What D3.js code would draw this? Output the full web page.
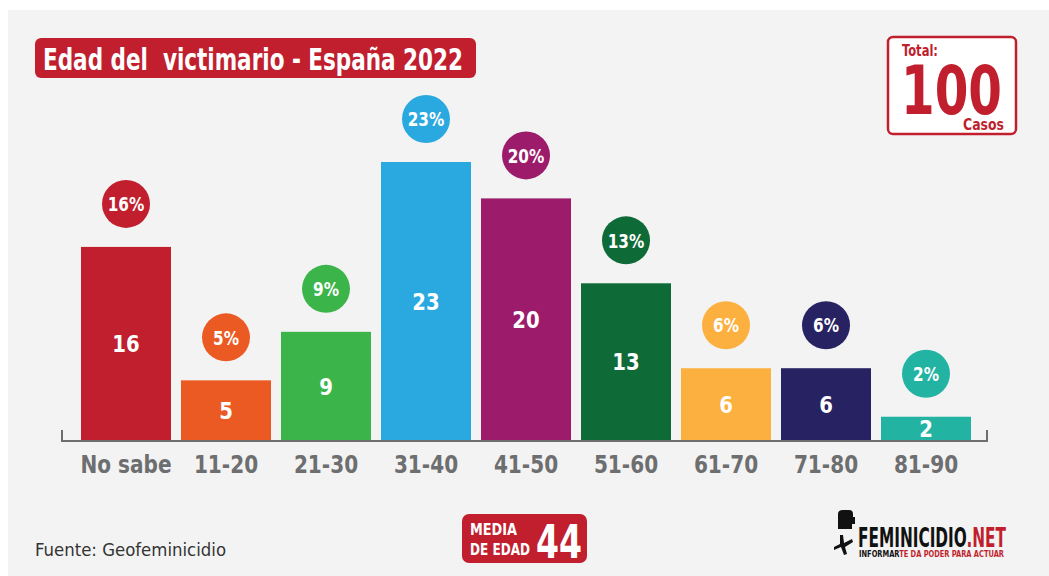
<!DOCTYPE html>
<html>
<head>
<meta charset="utf-8">
<script src="https://cdn.jsdelivr.net/npm/d3@7"></script>
<style>
  body { margin: 0; background: #ffffff; }
  svg text { font-family: "DejaVu Sans Condensed", "Liberation Sans Narrow", "Roboto", sans-serif; font-weight: bold; white-space: pre; }
</style>
</head>
<body>
<div id="chart"></div>
<script>
var width = 1049;
var height = 576;

// datos
var categories = ["No sabe", "11-20", "21-30", "31-40", "41-50", "51-60", "61-70", "71-80", "81-90"];
var counts = [16, 5, 9, 23, 20, 13, 6, 6, 2];
var percents = ["16%", "5%", "9%", "23%", "20%", "13%", "6%", "6%", "2%"];
var colors = ["#c11f2e", "#ec5a24", "#3bb54a", "#2aa9e0", "#9c1c6b", "#0e6b37", "#fbb040", "#272262", "#22b3a3"];
var total = 100;
var mediaEdad = 44;

var data = categories.map((c, i) => ({cat: c, n: counts[i], pct: percents[i], color: colors[i]}));

var svg = d3.select("#chart")
    .append("svg")
    .attr("width", width)
    .attr("height", height);

// estrecha el texto para parecerse a la fuente condensada
function condense(sel, f) {
    sel.each(function() {
        var len = this.getComputedTextLength();
        d3.select(this)
            .attr("textLength", len * f)
            .attr("lengthAdjust", "spacingAndGlyphs");
    });
}

// fondo
svg.append("rect")
    .attr("x", 8).attr("y", 10)
    .attr("width", width - 8).attr("height", height - 10)
    .attr("fill", "#f3f3f3");

var x = d3.scaleBand()
    .domain(categories)
    .range([76, 976])
    .paddingInner(0.1)
    .paddingOuter(0.05);

var y = d3.scaleLinear()
    .domain([0, 23])
    .range([441, 162]);

// barras
var bars = svg.append("g").attr("class", "bars");

bars.selectAll("rect")
    .data(data)
    .enter().append("rect")
    .attr("x", d => x(d.cat))
    .attr("y", d => y(d.n))
    .attr("width", x.bandwidth())
    .attr("height", d => y(0) - y(d.n))
    .attr("fill", d => d.color);

bars.selectAll(".val")
    .data(data)
    .enter().append("text")
    .attr("class", "val")
    .attr("x", d => x(d.cat) + x.bandwidth() / 2)
    .attr("y", d => (y(d.n) + y(0)) / 2)
    .attr("dy", "0.36em")
    .attr("text-anchor", "middle")
    .attr("fill", "#fff")
    .attr("font-size", 23)
    .text(d => d.n)
    .call(condense, 0.95);

// circulos con porcentaje
var bubbles = svg.append("g").attr("class", "bubbles");

bubbles.selectAll("circle")
    .data(data)
    .enter().append("circle")
    .attr("cx", d => x(d.cat) + x.bandwidth() / 2)
    .attr("cy", d => y(d.n) - 43)
    .attr("r", 24)
    .attr("fill", d => d.color);

bubbles.selectAll("text")
    .data(data)
    .enter().append("text")
    .attr("x", d => x(d.cat) + x.bandwidth() / 2)
    .attr("y", d => y(d.n) - 43)
    .attr("dy", "0.36em")
    .attr("text-anchor", "middle")
    .attr("fill", "#fff")
    .attr("font-size", 20)
    .text(d => d.pct)
    .call(condense, 0.85);

// eje x
var xAxis = svg.append("g")
    .attr("class", "x-axis")
    .attr("transform", "translate(0," + (y(0) + 12) + ")")
    .call(d3.axisBottom(x).tickSize(0).tickSizeOuter(0));

xAxis.select(".domain").remove();
xAxis.selectAll("text")
    .attr("font-size", 24)
    .attr("fill", "#6d6e70")
    .style("font-family", null)
    .call(condense, 0.93);

svg.append("path")
    .attr("d", "M" + (x.range()[0] - 14) + "," + (y(0) - 11) + "V" + y(0) + "H" + (x.range()[1] + 11) + "V" + (y(0) - 11))
    .attr("fill", "none")
    .attr("stroke", "#6d6e70")
    .attr("stroke-width", 2);

// titulo
svg.append("rect")
    .attr("x", 35).attr("y", 38)
    .attr("width", 441).attr("height", 40)
    .attr("rx", 6)
    .attr("fill", "#c11f2e");

svg.append("text")
    .attr("x", 43).attr("y", 70)
    .attr("fill", "#fff")
    .attr("font-size", 30)
    .attr("textLength", 420)
    .attr("lengthAdjust", "spacingAndGlyphs")
    .text("Edad del  victimario - España 2022");

// caja total
var tot = svg.append("g");
tot.append("rect")
    .attr("x", 888).attr("y", 37)
    .attr("width", 128).attr("height", 97)
    .attr("rx", 5)
    .attr("fill", "#fff")
    .attr("stroke", "#c11f2e")
    .attr("stroke-width", 2.5);
tot.append("text")
    .attr("x", 902).attr("y", 56)
    .attr("fill", "#c11f2e")
    .attr("font-size", 15)
    .attr("textLength", 36)
    .attr("lengthAdjust", "spacingAndGlyphs")
    .text("Total:");
tot.append("text")
    .attr("x", 901).attr("y", 114)
    .attr("fill", "#c11f2e")
    .attr("font-size", 68)
    .attr("textLength", 101)
    .attr("lengthAdjust", "spacingAndGlyphs")
    .text(total);
tot.append("text")
    .attr("x", 1004).attr("y", 130)
    .attr("text-anchor", "end")
    .attr("fill", "#c11f2e")
    .attr("font-size", 15)
    .attr("textLength", 41)
    .attr("lengthAdjust", "spacingAndGlyphs")
    .text("Casos");

// media de edad
var media = svg.append("g");
media.append("rect")
    .attr("x", 462).attr("y", 514)
    .attr("width", 125).attr("height", 49)
    .attr("rx", 7)
    .attr("fill", "#c11f2e");
media.append("text")
    .attr("x", 470).attr("y", 535)
    .attr("fill", "#fff")
    .attr("font-size", 16)
    .attr("textLength", 47)
    .attr("lengthAdjust", "spacingAndGlyphs")
    .text("MEDIA");
media.append("text")
    .attr("x", 470).attr("y", 555)
    .attr("fill", "#fff")
    .attr("font-size", 16)
    .attr("textLength", 60)
    .attr("lengthAdjust", "spacingAndGlyphs")
    .text("DE EDAD");
media.append("text")
    .attr("x", 536).attr("y", 558)
    .attr("fill", "#fff")
    .attr("font-size", 47)
    .attr("textLength", 46)
    .attr("lengthAdjust", "spacingAndGlyphs")
    .text(mediaEdad);

// fuente
svg.append("text")
    .attr("x", 35).attr("y", 556)
    .attr("fill", "#333")
    .attr("font-size", 17)
    .attr("textLength", 191)
    .attr("lengthAdjust", "spacingAndGlyphs")
    .style("font-weight", "normal")
    .text("Fuente: Geofeminicidio");

// logo
var logo = svg.append("g");
logo.append("path")
    .attr("d", "M838,514 q0,-4 5,-4 h6 q4,0 4,4 v3 h2 v7 h-3 v5 h-14 z")
    .attr("fill", "#111");
logo.append("path")
    .attr("d", "M840,535 l3,0 l1,8 l8,-4 l1,3 l-8,5 l2,7 l-3,1 l-3,-8 l-7,3 l0,-3 l6,-3 z")
    .attr("fill", "#111");
var logoText = logo.append("text")
    .attr("x", 858).attr("y", 547)
    .attr("font-size", 27)
    .attr("textLength", 148)
    .attr("lengthAdjust", "spacingAndGlyphs");
logoText.append("tspan").attr("fill", "#111").text("FEMINICIDIO");
logoText.append("tspan").attr("fill", "#c11f2e").text(".NET");
var tag = logo.append("text")
    .attr("x", 859).attr("y", 557)
    .attr("font-size", 9)
    .attr("textLength", 145)
    .attr("lengthAdjust", "spacingAndGlyphs");
tag.append("tspan").attr("fill", "#111").text("INFORMAR");
tag.append("tspan").attr("fill", "#c11f2e").text("TE DA PODER PARA ACTUAR");
</script>
</body>
</html>
